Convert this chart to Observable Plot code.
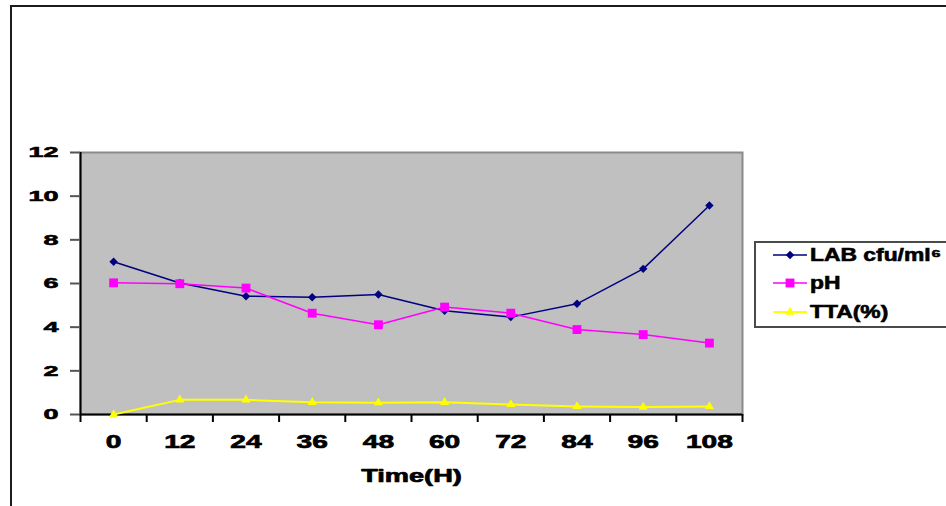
<!DOCTYPE html>
<html><head><meta charset="utf-8">
<script src="https://cdn.jsdelivr.net/npm/d3@7"></script>
<script src="https://cdn.jsdelivr.net/npm/@observablehq/plot@0.6"></script>
<style>
html,body{margin:0;padding:0;background:#fff;overflow:hidden;width:946px;height:506px}
#wrap{position:relative;width:946px;height:506px;overflow:hidden}
#frame{position:absolute;left:10px;top:5px;width:960px;height:520px;border-left:2px solid #1c1c1c;border-top:2px solid #1c1c1c;box-sizing:border-box}
#chart{position:absolute;left:0;top:0}
#legend{position:absolute;left:754px;top:241px;width:230px;height:87px;border:2px solid #4a4a4a;background:#fff;box-sizing:border-box;font-family:"Liberation Sans",Arial,sans-serif;font-weight:bold;font-size:18px;color:#000}
.row{position:absolute;left:17px;height:24px;display:flex;align-items:center;white-space:nowrap}
.row svg{display:block}
.row span{display:inline-block;transform:scaleX(1.27);transform-origin:left center;margin-left:3px;-webkit-text-stroke:0.6px #000}
</style>
</head><body>
<div id="wrap"><div id="frame"></div><div id="chart"></div><div id="legend"></div></div>
<script>
const times = [0, 12, 24, 36, 48, 60, 72, 84, 96, 108];
const lab = [7.0, 6.02, 5.42, 5.37, 5.5, 4.75, 4.46, 5.07, 6.67, 9.57];
const ph = [6.03, 5.99, 5.79, 4.64, 4.11, 4.92, 4.64, 3.89, 3.66, 3.27];
const tta = [0, 0.67, 0.67, 0.56, 0.54, 0.56, 0.46, 0.37, 0.34, 0.37];
const seriesNames = ["LAB cfu/ml⁶", "pH", "TTA(%)"];
const seriesColors = ["#000080", "#ff00ff", "#ffff00"];
const seriesSymbols = ["diamond2", "square", "triangle"];
const yTicks = [0, 2, 4, 6, 8, 10, 12];
const xTitle = "Time(H)";

const values = [lab, ph, tta];
const step = times[1] - times[0];
const boundaries = times.map(t => t - step / 2).concat([times[times.length - 1] + step / 2]);
const rows = values.map((vals, i) => times.map((t, j) => ({series: seriesNames[i], time: t, value: vals[j]})));

const symSizes = [3.8, 5, 3.4];
const lineWidths = [1.5, 1.5, 2];

const marks = [
  Plot.frame({fill: "#c0c0c0", stroke: "#8a8a8a", strokeWidth: 2}),
  Plot.ruleX([boundaries[0]], {stroke: "#000", strokeWidth: 2}),
  Plot.ruleY([0], {stroke: "#000", strokeWidth: 2}),
  Plot.axisY({ticks: yTicks, tickSize: 10, tickPadding: 12, stroke: "#555", strokeWidth: 2, label: null}),
  Plot.axisX({ticks: boundaries, tickSize: 8, tickFormat: () => "", stroke: "#000", strokeWidth: 2, label: null}),
  Plot.axisX({ticks: times, tickSize: 0, tickPadding: 20, label: null}),
  Plot.text([xTitle], {frameAnchor: "bottom", dy: 67, text: d => d, fontSize: 19, fontWeight: "bold", fill: "#000", stroke: "#000", strokeWidth: 0.7})
];
rows.forEach((r, i) => {
  marks.push(Plot.line(r, {x: "time", y: "value", stroke: seriesColors[i], strokeWidth: lineWidths[i]}));
  marks.push(Plot.dot(r, {x: "time", y: "value", symbol: () => seriesSymbols[i], fill: seriesColors[i], r: symSizes[i], stroke: "none"}));
});

const chart = Plot.plot({
  width: 946, height: 506,
  marginLeft: 80, marginRight: 204, marginTop: 152, marginBottom: 92,
  x: {type: "linear", domain: [boundaries[0], boundaries[boundaries.length - 1]]},
  y: {domain: [0, 12]},
  symbol: {type: "identity"},
  style: {fontFamily: "'Liberation Sans', Arial, sans-serif", fontWeight: "bold", color: "#000", background: "transparent", overflow: "visible"},
  marks
});
document.getElementById("chart").appendChild(chart);

const svg = d3.select(chart);
svg.selectAll('g[aria-label="y-axis tick label"]').attr("font-size", 15).attr("font-weight", "bold").attr("fill", "#000").attr("stroke", "#000").attr("stroke-width", 0.6);
svg.selectAll('g[aria-label="x-axis tick label"]').attr("font-size", 19).attr("font-weight", "bold").attr("fill", "#000").attr("stroke", "#000").attr("stroke-width", 0.7);

function stretchNodes(nodes, f) {
  nodes.forEach(function (node) {
    const len = node.getComputedTextLength();
    if (len > 0) {
      node.setAttribute("textLength", (len * f).toFixed(1));
      node.setAttribute("lengthAdjust", "spacingAndGlyphs");
    }
  });
}
stretchNodes(svg.selectAll('g[aria-label="y-axis tick label"] text').nodes(), 1.8);
stretchNodes(svg.selectAll('g[aria-label="x-axis tick label"] text').nodes(), 1.48);
stretchNodes(svg.selectAll("text").filter(function () { return this.textContent === xTitle; }).nodes(), 1.43);

// legend
const legend = document.getElementById("legend");
const rowTops = [0, 28, 57];
const symMap = {diamond2: d3.symbolDiamond2, square: d3.symbolSquare, triangle: d3.symbolTriangle};
seriesNames.forEach((name, i) => {
  const row = document.createElement("div");
  row.className = "row";
  row.style.top = rowTops[i] + "px";
  const s = d3.create("svg").attr("width", 34).attr("height", 24);
  s.append("line").attr("x1", 0).attr("x2", 34).attr("y1", 12).attr("y2", 12).attr("stroke", seriesColors[i]).attr("stroke-width", lineWidths[i]);
  s.append("path").attr("transform", "translate(17,12)").attr("fill", seriesColors[i])
    .attr("d", d3.symbol(symMap[seriesSymbols[i]], Math.PI * symSizes[i] * symSizes[i])());
  row.appendChild(s.node());
  const sp = document.createElement("span");
  sp.textContent = name;
  row.appendChild(sp);
  legend.appendChild(row);
});
</script>
</body></html>
